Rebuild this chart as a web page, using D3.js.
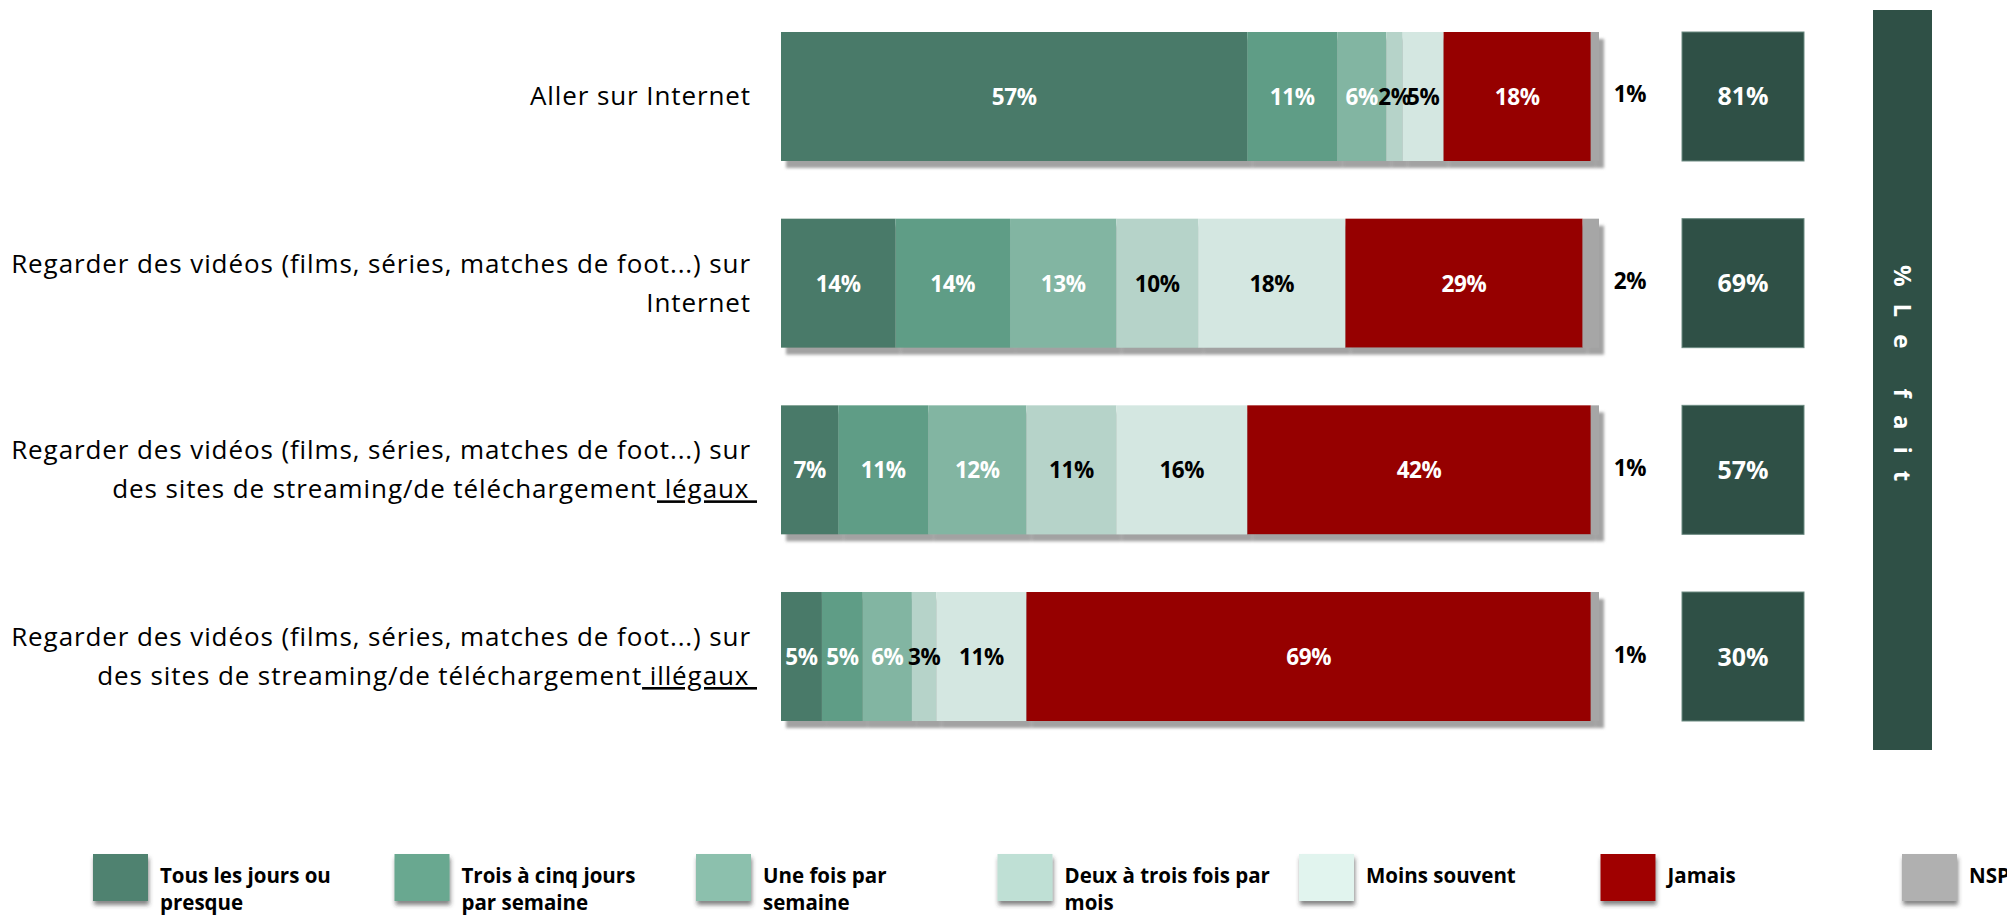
<!DOCTYPE html>
<html><head><meta charset="utf-8">
<script src="https://cdn.jsdelivr.net/npm/d3@7/dist/d3.min.js"></script>
<style>body{margin:0;background:#fff} svg{display:block}</style>
</head><body>
<svg id="chart" width="2007" height="915"></svg>
<script>
// ---------- DATA ----------
const categories = [
  "Aller sur Internet",
  "Regarder des vidéos (films, séries, matches de foot...) sur Internet",
  "Regarder des vidéos (films, séries, matches de foot...) sur des sites de streaming/de téléchargement légaux",
  "Regarder des vidéos (films, séries, matches de foot...) sur des sites de streaming/de téléchargement illégaux"
];
const seriesNames = ["Tous les jours ou presque","Trois à cinq jours par semaine","Une fois par semaine","Deux à trois fois par mois","Moins souvent","Jamais","NSP"];
const tousLesJours = [57,14,7,5];
const troisACinq   = [11,14,11,5];
const uneFois      = [6,13,12,6];
const deuxATrois   = [2,10,11,3];
const moinsSouvent = [5,18,16,11];
const jamais       = [18,29,42,69];
const nsp          = [1,2,1,1];
const leFait       = [81,69,57,30];
const leFaitTitle  = "%Le fait";
const legendLines = [["Tous les jours ou","presque"],["Trois à cinq jours","par semaine"],["Une fois par","semaine"],["Deux à trois fois par","mois"],["Moins souvent"],["Jamais"],["NSP"]];
// label lines: [text, underlinedPart]
const labelLines = [
  [["Aller sur Internet",""]],
  [["Regarder des vidéos (films, séries, matches de foot...) sur",""],["Internet",""]],
  [["Regarder des vidéos (films, séries, matches de foot...) sur",""],["des sites de streaming/de téléchargement","\u00a0légaux\u00a0"]],
  [["Regarder des vidéos (films, séries, matches de foot...) sur",""],["des sites de streaming/de téléchargement","\u00a0illégaux\u00a0"]]
];
// ---------- STYLE ----------
const barColors = ["#4a7a69","#5e9d86","#82b5a2","#b6d3c9","#d4e7e1","#960000","#a6a6a6"];
const legColors = ["#4f8270","#69a890","#8cc0ad","#bfe0d5","#e1f4ee","#a00606","#b0b0b0"];
const labelFill = ["#fff","#fff","#fff","#000","#000","#fff","#000"];
const seriesValues = [tousLesJours,troisACinq,uneFois,deuxATrois,moinsSouvent,jamais,nsp];

const svg = d3.select("#chart");
const defs = svg.append("defs");
const f = defs.append("filter").attr("id","shadow").attr("x","-5%").attr("y","-10%").attr("width","115%").attr("height","140%");
f.append("feDropShadow").attr("dx",5).attr("dy",7).attr("stdDeviation",1.8).attr("flood-color","#8a8a8a").attr("flood-opacity",0.8);
const f2 = defs.append("filter").attr("id","lshadow").attr("x","-20%").attr("y","-20%").attr("width","150%").attr("height","160%");
f2.append("feDropShadow").attr("dx",1).attr("dy",4).attr("stdDeviation",2).attr("flood-color","#333").attr("flood-opacity",0.6);

const x = d3.scaleLinear().domain([0,100]).range([781,1599]);
const y = d3.scaleBand().domain(categories).range([32,721]).paddingInner(0.309).paddingOuter(0);

const table = categories.map((c,i)=>{const o={cat:c}; seriesNames.forEach((k,j)=>o[k]=seriesValues[j][i]); return o;});
const stacked = d3.stack().keys(seriesNames)(table);

const FONT = "'Open Sans', 'Noto Sans', sans-serif";

// bars
const barG = svg.append("g");
categories.forEach((c,i)=>{
  const g = barG.append("g").attr("filter","url(#shadow)");
  stacked.forEach((s,j)=>{
    const d = s[i];
    g.append("rect").attr("x",x(d[0])).attr("y",y(c)).attr("width",x(d[1])-x(d[0])).attr("height",y.bandwidth()).attr("fill",barColors[j]);
  });
});
// data labels
categories.forEach((c,i)=>{
  const cy = y(c)+y.bandwidth()/2;
  stacked.forEach((s,j)=>{
    const d = s[i];
    const v = d[1]-d[0];
    const isOut = j===seriesNames.length-1;
    svg.append("text")
      .attr("x", isOut ? x(100)+31 : (x(d[0])+x(d[1]))/2)
      .attr("y", cy + (isOut ? 6 : 8.5))
      .attr("text-anchor","middle")
      .attr("font-family",FONT).attr("font-weight","bold").attr("font-size",22.5)
      .attr("letter-spacing",-0.4)
      .attr("fill", labelFill[j])
      .text(v+"%");
  });
});
// category labels
const labG = svg.append("g");
categories.forEach((c,i)=>{
  const lines = labelLines[i];
  const cy = y(c)+y.bandwidth()/2;
  const lh = 39;
  const base = cy + 9 - (lines.length-1)*lh/2;
  lines.forEach((ln,k)=>{
    const t = labG.append("text").attr("x", ln[1] ? 757 : 751).attr("y", base+k*lh)
      .attr("text-anchor","end").attr("font-family",FONT).attr("font-size",26)
      .attr("letter-spacing",0.9).attr("fill","#000");
    t.append("tspan").text(ln[0]);
    if(ln[1]) t.append("tspan").attr("text-decoration","underline").text(ln[1]);
  });
});
// % le fait boxes
categories.forEach((c,i)=>{
  svg.append("rect").attr("x",1682).attr("y",y(c)).attr("width",122).attr("height",y.bandwidth())
    .attr("fill","#2f5046").attr("stroke","#6b8a80").attr("stroke-width",1);
  svg.append("text").attr("x",1743).attr("y",y(c)+y.bandwidth()/2+9).attr("text-anchor","middle")
    .attr("font-family",FONT).attr("font-weight","bold").attr("font-size",25).attr("fill","#fff")
    .text(leFait[i]+"%");
});
svg.append("rect").attr("x",1873).attr("y",10).attr("width",59).attr("height",740).attr("fill","#2f5046");
svg.append("text").attr("transform","translate(1902,265) rotate(90)").attr("x",0).attr("y",8.5)
  .attr("font-family",FONT).attr("font-weight","bold").attr("font-size",24)
  .attr("letter-spacing",17).attr("fill","#fff").attr("xml:space","preserve").text(leFaitTitle);

// legend
seriesNames.forEach((n,j)=>{
  const lx = 93 + j*301.5;
  svg.append("rect").attr("x",lx).attr("y",854).attr("width",55).attr("height",47).attr("fill",legColors[j]).attr("filter","url(#lshadow)");
  legendLines[j].forEach((ln,k)=>{
    svg.append("text").attr("x",lx+67).attr("y",883+k*27).attr("font-family",FONT).attr("font-weight","bold")
      .attr("font-size",20.5).attr("fill","#000").text(ln);
  });
});
</script>
</body></html>
